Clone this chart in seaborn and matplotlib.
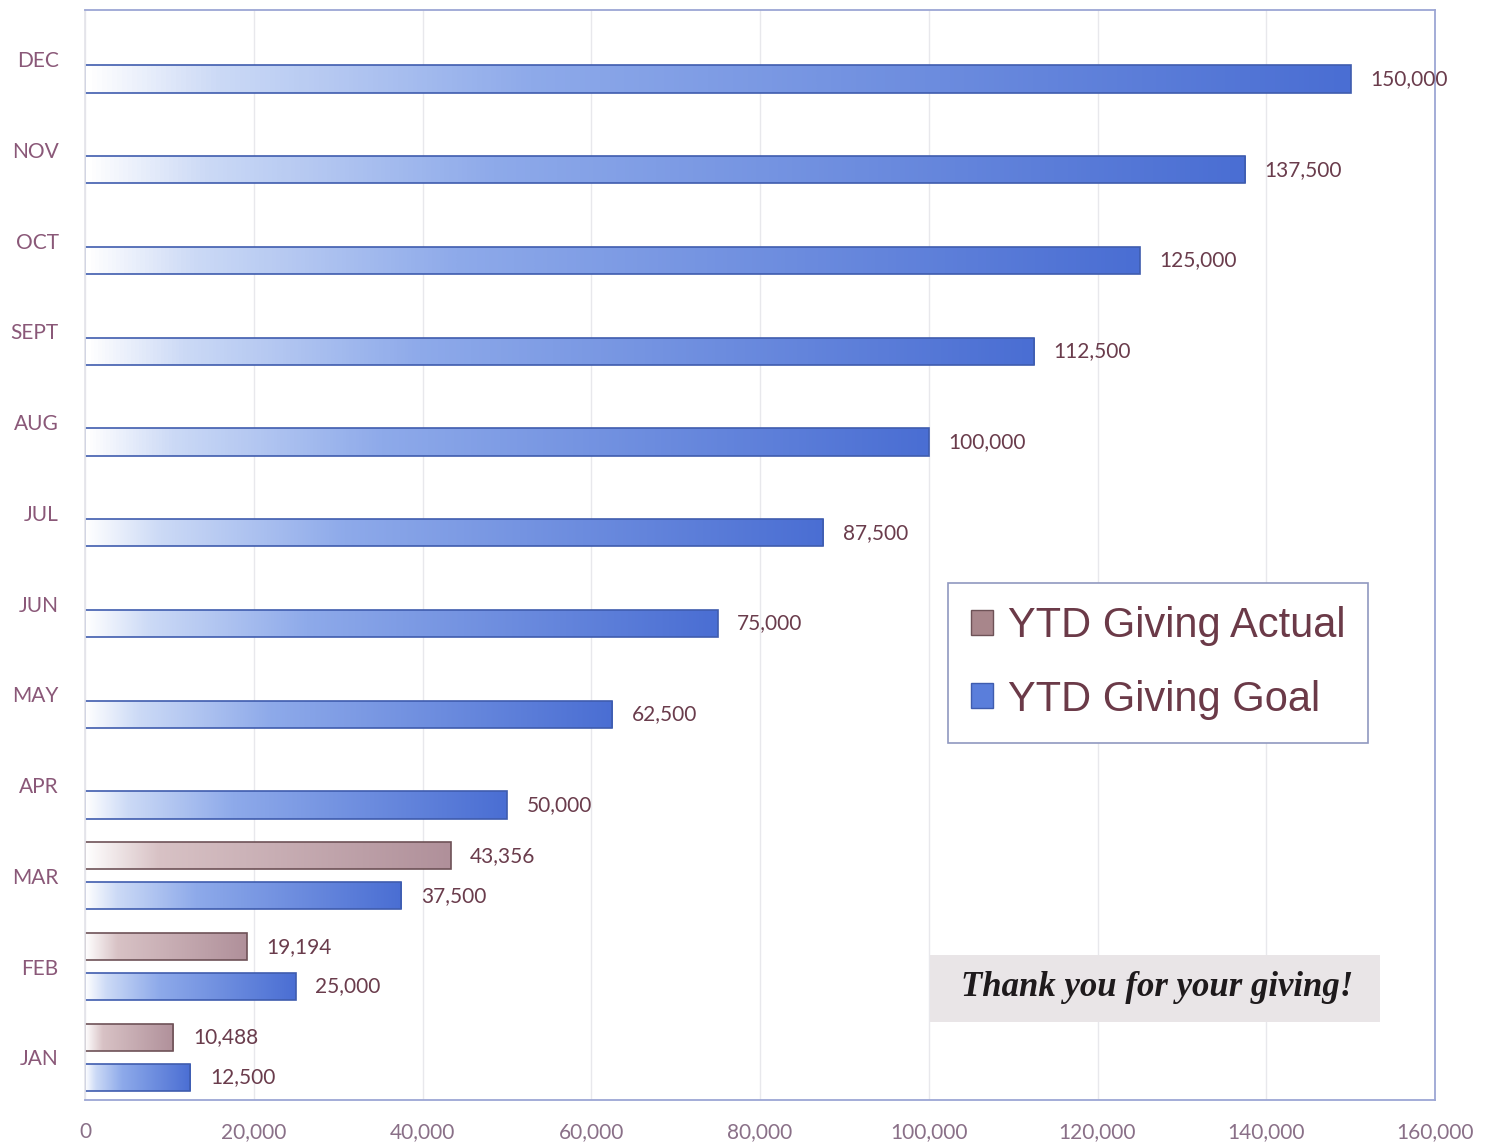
import numpy as np
import pandas as pd
import matplotlib
matplotlib.use("Agg")
import matplotlib.pyplot as plt
import seaborn as sns
from matplotlib.colors import LinearSegmentedColormap
from matplotlib.patches import Patch, Rectangle

# --- data ---
months = ["DEC", "NOV", "OCT", "SEPT", "AUG", "JUL", "JUN", "MAY", "APR", "MAR", "FEB", "JAN"]
goal = [150000, 137500, 125000, 112500, 100000, 87500, 75000, 62500, 50000, 37500, 25000, 12500]
actual_months = ["MAR", "FEB", "JAN"]
actual = [43356, 19194, 10488]
x_ticks = [0, 20000, 40000, 60000, 80000, 100000, 120000, 140000, 160000]
series = ["YTD Giving Actual", "YTD Giving Goal"]

df = pd.concat([
    pd.DataFrame({"month": actual_months, "value": actual, "series": series[0]}),
    pd.DataFrame({"month": months, "value": goal, "series": series[1]}),
], ignore_index=True)

sns.set_theme(style="white")
plt.rcParams["font.family"] = ["Lato", "DejaVu Sans"]

fig = plt.figure(figsize=(14.92, 11.47), dpi=100)
ax = fig.add_axes([85 / 1492, 47 / 1147, 1350 / 1492, 1090 / 1147])

sns.barplot(data=df, x="value", y="month", hue="series", order=months,
            hue_order=series, orient="h", width=0.88, gap=0.32,
            palette=["#B8979C", "#4C72D6"], legend=False, ax=ax)

# gradient fills, white at the left end of each bar
actual_cmap = LinearSegmentedColormap.from_list(
    "act", [(0, "#FFFFFF"), (0.2, "#D8C2C5"), (1, "#B0909A")])
goal_cmap = LinearSegmentedColormap.from_list(
    "goal", [(0, "#FFFFFF"), (0.1, "#CCDAF6"), (0.35, "#8EAAEA"), (1, "#4A6ED3")])
edges = ["#6E5257", "#3F5CAE"]

grad = np.linspace(0, 1, 256).reshape(1, -1)
for cont, cmap, edge in zip(ax.containers, [actual_cmap, goal_cmap], edges):
    for bar in cont:
        x0, y0 = bar.get_xy()
        w, h = bar.get_width(), bar.get_height()
        im = ax.imshow(grad, cmap=cmap, aspect="auto", interpolation="bicubic",
                       extent=[x0, x0 + w, y0 + h, y0], zorder=1.5)
        im.set_clip_path(bar)
        bar.set_facecolor("none")
        bar.set_edgecolor(edge)
        bar.set_linewidth(1.2)
        bar.set_zorder(2)
    ax.bar_label(cont, fmt="{:,.0f}", padding=14, fontsize=15, color="#6A3C4C")

ax.set_xlim(0, 160000)
ax.set_ylim(11.47, -0.54)
ax.set_xticks(x_ticks)
ax.set_xticklabels([f"{t:,}" for t in x_ticks])
ax.tick_params(axis="x", length=0, pad=16, labelsize=15, labelcolor="#8A7088")
ax.tick_params(axis="y", length=0, pad=19, labelsize=15, labelcolor="#8A5878")
ax.set_xlabel("")
ax.set_ylabel("")

ax.grid(axis="x", color="#E8E8EC", linewidth=1)
ax.set_axisbelow(True)
for side in ["top", "right", "bottom"]:
    ax.spines[side].set_color("#9CA6D4")
    ax.spines[side].set_linewidth(1.3)
ax.spines["left"].set_color("#E4E4EA")

# legend
handles = [Patch(facecolor="#A8868B", edgecolor="#6E5257"),
           Patch(facecolor="#5A7EDB", edgecolor="#3F5CAE")]
leg = ax.legend(handles, series, loc="upper left", bbox_to_anchor=(0.639, 0.474),
                prop={"family": ["Liberation Sans Narrow", "Liberation Sans"], "size": 30},
                labelcolor="#6B3A48", frameon=True, fancybox=False,
                edgecolor="#9098C0", framealpha=1, handlelength=0.55, handleheight=0.55,
                handletextpad=0.35, labelspacing=0.8, borderpad=0.55, borderaxespad=0)
leg.get_frame().set_linewidth(1.2)

# thank-you note
ax.add_patch(Rectangle((0.626, 0.072), 0.333, 0.061, transform=ax.transAxes,
                       facecolor="#E9E5E7", edgecolor="none", zorder=3))
ax.text(0.794, 0.103, "Thank you for your giving!", transform=ax.transAxes,
        ha="center", va="center", fontsize=25, fontweight="bold", fontstyle="italic",
        family=["Liberation Serif", "DejaVu Serif"], color="#1E1A1C", zorder=4)

fig.savefig("out.png", dpi=100)
